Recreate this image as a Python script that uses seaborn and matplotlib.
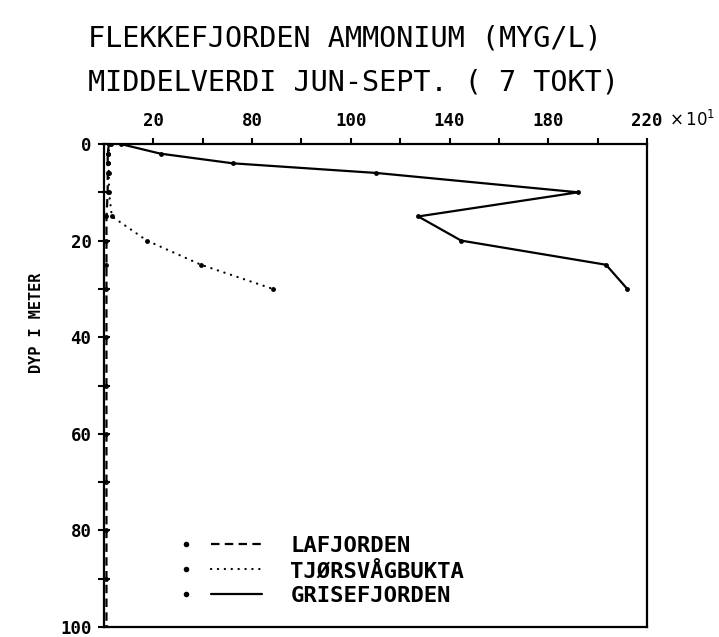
import numpy as np
import pandas as pd
import matplotlib
matplotlib.use("Agg")
import matplotlib.pyplot as plt
import seaborn as sns
from matplotlib.lines import Line2D
from matplotlib.legend_handler import HandlerBase
from matplotlib.font_manager import FontProperties

# ---------------- data (values in units of 10 MYG/L, depth in m) ----------------
lafjorden_depth = [0, 2, 4, 6, 10, 15, 20, 25, 30, 40, 50, 60, 70, 80, 90, 100]
lafjorden_val = [2.0, 1.5, 1.5, 1.5, 1.5, 1.0, 1.0, 1.0, 1.0, 1.0, 1.0, 1.0, 1.0, 1.0, 1.0, 1.0]

tjorsvag_depth = [0, 2, 4, 6, 10, 15, 20, 25, 30]
tjorsvag_val = [3.0, 1.5, 1.5, 2.0, 2.0, 3.2, 17.4, 39.3, 68.4]

grise_depth = [0, 2, 4, 6, 10, 15, 20, 25, 30]
grise_val = [6.7, 22.9, 52.2, 110.4, 192.1, 127.3, 144.7, 203.4, 212.0]

series_names = ["LAFJORDEN", "TJØRSVÅGBUKTA", "GRISEFJORDEN"]

x_tick_pos = [20, 60, 100, 140, 180, 220]
x_tick_labels = ["20", "80", "100", "140", "180", "220"]
x_minor_pos = [40, 80, 120, 160, 200]
y_tick_pos = [0, 10, 20, 30, 40, 50, 60, 70, 80, 90, 100]
y_tick_labels = ["0", "", "20", "", "40", "", "60", "", "80", "", "100"]

title1 = "FLEKKEFJORDEN AMMONIUM (MYG/L)"
title2 = "MIDDELVERDI JUN-SEPT. ( 7 TOKT)"
ylabel = "DYP I METER"

# ---------------- figure ----------------
sns.set_style("white")
plt.rcParams["font.family"] = ["DejaVu Sans Mono", "DejaVu Sans"]
plt.rcParams["text.color"] = "black"
plt.rcParams["axes.labelcolor"] = "black"
plt.rcParams["xtick.color"] = "black"
plt.rcParams["ytick.color"] = "black"

fig = plt.figure(figsize=(7.19, 6.37), dpi=100)
W, H = 719, 637
ax = fig.add_axes([104 / W, 1 - 627 / H, (647 - 104) / W, (627 - 144) / H])

df_l = pd.DataFrame({"val": lafjorden_val, "depth": lafjorden_depth})
df_t = pd.DataFrame({"val": tjorsvag_val, "depth": tjorsvag_depth})
df_g = pd.DataFrame({"val": grise_val, "depth": grise_depth})

common = dict(x="val", y="depth", sort=False, estimator=None, color="black",
              marker="o", markersize=3.5, markeredgewidth=0, ax=ax)
sns.lineplot(data=df_l, linewidth=1.6, dashes=False, **common)
ax.lines[-1].set_linestyle((0, (3.8, 2.4)))
sns.lineplot(data=df_t, linewidth=1.6, dashes=False, **common)
ax.lines[-1].set_linestyle((0, (0.1, 3.0)))
ax.lines[-1].set_dash_capstyle("round")
sns.lineplot(data=df_g, linewidth=1.6, dashes=False, **common)
lines = ax.lines[-3:]

ax.set_xlim(0, 220)
ax.set_ylim(100, 0)

for s in ax.spines.values():
    s.set_visible(True)
    s.set_linewidth(1.6)
    s.set_color("black")

tick_font = FontProperties(family="DejaVu Sans Mono", weight="bold", size=12.5)

ax.xaxis.tick_top()
ax.set_xticks(x_tick_pos)
ax.set_xticklabels(x_tick_labels, fontproperties=tick_font)
ax.set_xticks(x_minor_pos, minor=True)
ax.tick_params(axis="x", which="both", direction="out", length=4, width=1.5,
               pad=6, top=True, bottom=False, colors="black")
ax.set_xlabel("")

ax.set_yticks(y_tick_pos)
ax.set_yticklabels(y_tick_labels, fontproperties=tick_font)
ax.tick_params(axis="y", which="major", direction="inout", length=8, width=1.5,
               pad=5, left=True, right=False, colors="black")
ax.set_ylabel(ylabel, fontproperties=FontProperties(family="DejaVu Sans Mono",
              weight="bold", size=11))
ax.yaxis.set_label_coords(-0.11, 0.63)

fig.text(669 / W, 1 - 120 / H, r"$\times\,10^{1}$", fontsize=12,
         family="DejaVu Sans", va="center", ha="left")

title_font = FontProperties(family="DejaVu Sans Mono", size=20.5)
fig.text(88 / W, 1 - 39 / H, title1, fontproperties=title_font, va="center", ha="left")
fig.text(88 / W, 1 - 82 / H, title2, fontproperties=title_font, va="center", ha="left")


class DotLineHandler(HandlerBase):
    def create_artists(self, legend, orig_handle, xdescent, ydescent, width,
                       height, fontsize, trans):
        y = height / 2 - ydescent
        dot = Line2D([-xdescent], [y], marker="o", markersize=4,
                     markeredgewidth=0, color="black", linestyle="none")
        seg = Line2D([-xdescent + 0.33 * width, -xdescent + width], [y, y])
        seg.update_from(orig_handle)
        seg.set_marker("None")
        dot.set_transform(trans)
        seg.set_transform(trans)
        return [dot, seg]


leg = ax.legend(lines, series_names, handler_map={Line2D: DotLineHandler()},
                loc="upper left", bbox_to_anchor=(186 / W, 1 - 536 / H),
                bbox_transform=fig.transFigure, frameon=False,
                prop=FontProperties(family="DejaVu Sans Mono", weight="bold", size=16),
                handlelength=3.4, handletextpad=1.3, labelspacing=0.22,
                borderpad=0, borderaxespad=0)

fig.savefig("out.png", dpi=100)
